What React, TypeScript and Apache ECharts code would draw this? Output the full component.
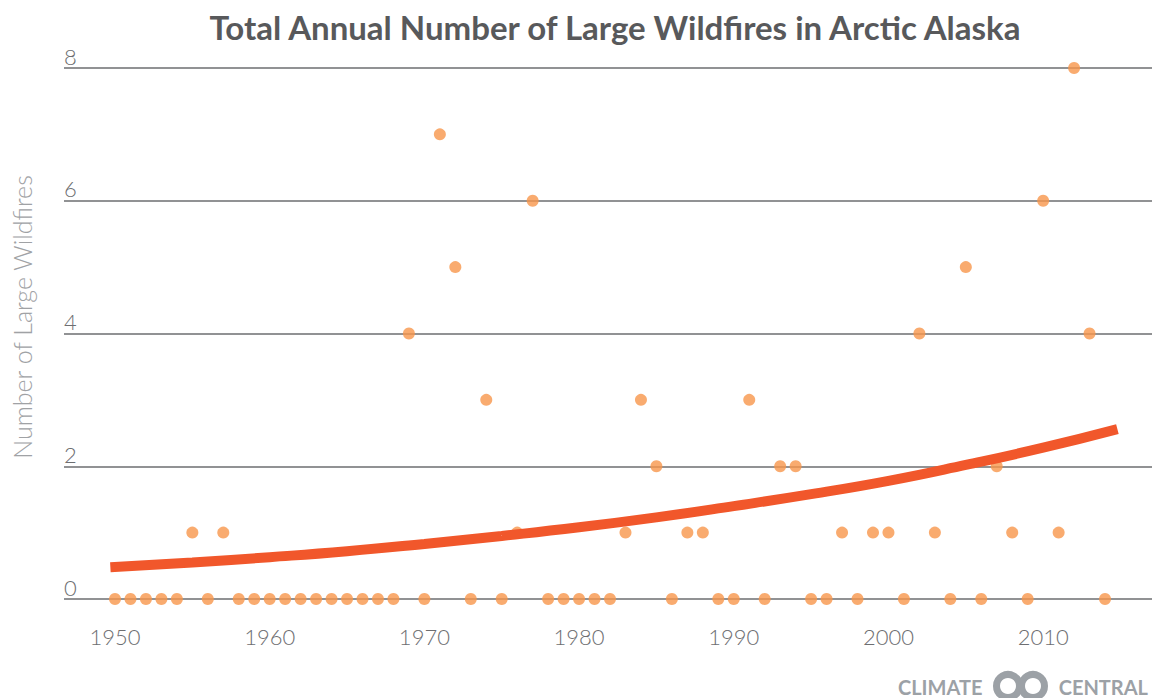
import React, { useEffect, useRef } from "react";
import * as echarts from "echarts";

const years = [
  1950, 1951, 1952, 1953, 1954, 1955, 1956, 1957, 1958, 1959,
  1960, 1961, 1962, 1963, 1964, 1965, 1966, 1967, 1968, 1969,
  1970, 1971, 1972, 1973, 1974, 1975, 1976, 1977, 1978, 1979,
  1980, 1981, 1982, 1983, 1984, 1985, 1986, 1987, 1988, 1989,
  1990, 1991, 1992, 1993, 1994, 1995, 1996, 1997, 1998, 1999,
  2000, 2001, 2002, 2003, 2004, 2005, 2006, 2007, 2008, 2009,
  2010, 2011, 2012, 2013, 2014,
];
const fires = [
  0, 0, 0, 0, 0, 1, 0, 1, 0, 0,
  0, 0, 0, 0, 0, 0, 0, 0, 0, 4,
  0, 7, 5, 0, 3, 0, 1, 6, 0, 0,
  0, 0, 0, 1, 3, 2, 0, 1, 1, 0,
  0, 3, 0, 2, 2, 0, 0, 1, 0, 1,
  1, 0, 4, 1, 0, 5, 0, 2, 1, 0,
  6, 1, 8, 4, 0,
];
const trendYears = [1949.7, 1955, 1960, 1965, 1970, 1975, 1980, 1985, 1990, 1995, 2000, 2005, 2010, 2014.8];
const trendValues = [0.48, 0.55, 0.63, 0.72, 0.83, 0.95, 1.08, 1.23, 1.4, 1.58, 1.78, 2.02, 2.28, 2.56];
const xTickLabels = [1950, 1960, 1970, 1980, 1990, 2000, 2010];
const yTicks = [0, 2, 4, 6, 8];

const TITLE = "Total Annual Number of Large Wildfires in Arctic Alaska";
const Y_NAME = "Number of Large Wildfires";
const FONT = "Lato, 'Open Sans', sans-serif";
const LOGO_GREY = "#9ca1a6";

export default function App() {
  const ref = useRef<HTMLDivElement>(null);
  useEffect(() => {
    if (!ref.current) return;
    const chart = echarts.init(ref.current, undefined, { renderer: "svg" });
    const scatterData = years.map((y, i) => [y, fires[i]]);
    const trendData = trendYears.map((y, i) => [y, trendValues[i]]);
    chart.setOption({
      animation: false,
      backgroundColor: "#ffffff",
      textStyle: { fontFamily: FONT },
      title: {
        text: TITLE,
        left: 610,
        textAlign: "center",
        top: 5,
        textStyle: { fontFamily: FONT, fontWeight: "bold", fontSize: 33, color: "#58595b" },
      },
      grid: { left: 64, right: 0, top: 68, bottom: 99, containLabel: false },
      xAxis: {
        type: "value",
        min: 1946.703,
        max: 2017.037,
        axisLine: { show: false },
        axisTick: { show: false },
        splitLine: { show: false },
        axisLabel: {
          customValues: xTickLabels,
          margin: 26,
          fontSize: 22,
          fontWeight: 300,
          color: "#6d6e71",
          fontFamily: FONT,
          formatter: (v: number) => String(v),
        },
      },
      yAxis: {
        type: "value",
        min: 0,
        max: 8,
        interval: 2,
        axisLine: { show: false },
        axisTick: { show: false },
        splitLine: { show: true, lineStyle: { color: "#6d6e71", width: 1.5 } },
        axisLabel: {
          customValues: yTicks,
          align: "left",
          verticalAlign: "bottom",
          margin: 0,
          padding: [0, 0, 1, 0],
          fontSize: 22,
          fontWeight: 300,
          color: "#6d6e71",
          fontFamily: FONT,
        },
      },
      series: [
        {
          type: "scatter",
          data: scatterData,
          symbol: "circle",
          symbolSize: 12,
          itemStyle: { color: "#f7964b" },
          z: 2,
        },
        {
          type: "line",
          data: trendData,
          smooth: true,
          showSymbol: false,
          lineStyle: { color: "#f1572b", width: 10, cap: "butt" },
          z: 3,
        },
      ],
      graphic: [
        {
          type: "text",
          x: 22,
          y: 317,
          rotation: Math.PI / 2,
          style: {
            text: Y_NAME,
            font: `300 25px ${FONT}`,
            fill: "#a0a2a5",
            textAlign: "center",
            textVerticalAlign: "middle",
          },
        },
        {
          type: "text",
          x: 898,
          y: 687,
          style: {
            text: "CLIMATE",
            font: `bold 20px ${FONT}`,
            fill: LOGO_GREY,
            textAlign: "left",
            textVerticalAlign: "middle",
          },
        },
        {
          type: "circle",
          shape: { cx: 1008, cy: 686, r: 11.5 },
          style: { fill: "none", stroke: LOGO_GREY, lineWidth: 7 },
        },
        {
          type: "circle",
          shape: { cx: 1033, cy: 686, r: 11.5 },
          style: { fill: "none", stroke: LOGO_GREY, lineWidth: 7 },
        },
        {
          type: "text",
          x: 1148,
          y: 687,
          style: {
            text: "CENTRAL",
            font: `bold 20px ${FONT}`,
            fill: LOGO_GREY,
            textAlign: "right",
            textVerticalAlign: "middle",
          },
        },
      ],
    });
    return () => chart.dispose();
  }, []);
  return (
    <div
      ref={ref}
      style={{ position: "fixed", left: 0, top: 0, width: 1152, height: 698 }}
    />
  );
}
